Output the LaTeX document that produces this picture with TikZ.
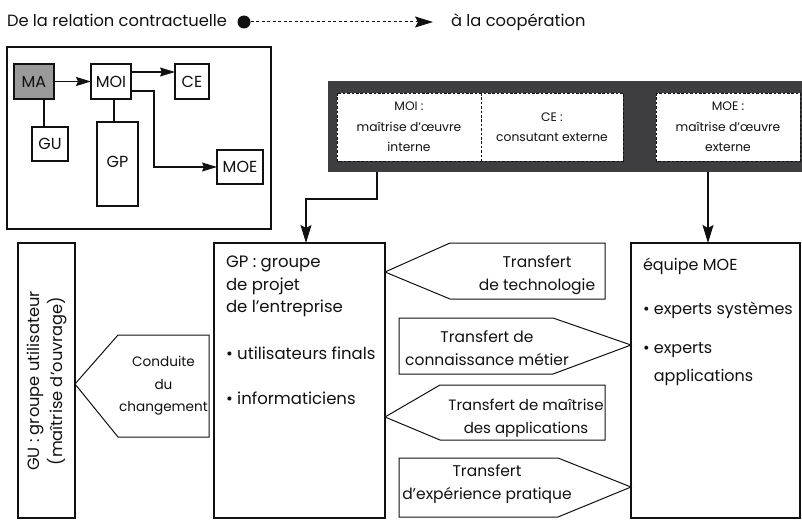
\documentclass[tikz,border=0pt]{standalone}
\usepackage{fontspec}
\setmainfont{Poppins}
\usetikzlibrary{arrows.meta}

\definecolor{panelgray}{HTML}{3E3E40}
\definecolor{mafill}{HTML}{9A9A9A}
\definecolor{ink}{HTML}{111111}

\newcommand\fntT{\fontsize{16.3}{20}\selectfont}
\newcommand\fntL{\fontsize{16.5}{23}\selectfont}
\newcommand\fntR{\fontsize{16}{23}\selectfont}
\newcommand\fntG{\fontsize{16.3}{22.5}\selectfont}
\newcommand\fntC{\fontsize{13.6}{22.5}\selectfont}
\newcommand\fntX{\fontsize{15.5}{23}\selectfont}
\newcommand\fntM{\fontsize{12.3}{20.5}\selectfont}
\newcommand\fntS{\fontsize{16}{18}\selectfont}

\tikzset{
  every node/.style={inner sep=0pt, outer sep=0pt, text=ink},
  frame/.style={draw=ink, line width=1.1pt},
  minibox/.style={frame, fill=white, font=\fntS},
  link/.style={draw=ink, line width=1.1pt},
  minitip/.style={-{Stealth[length=15pt,width=9pt,inset=2pt]}},
  bigtip/.style={-{Stealth[length=18pt,width=11pt,inset=3pt]}},
  dashline/.style={draw=ink, line width=1pt, dash pattern=on 2.6pt off 1.8pt},
  innerbox/.style={fill=white, minimum height=68, font=\fntM, align=center},
  tagshape/.style={draw=ink, line width=1pt, fill=white},
  tagtext/.style={font=\fntX, align=center},
  listtext/.style={anchor=north west, align=left}
}

\begin{document}
\begin{tikzpicture}[x=1pt,y=-1pt]
\useasboundingbox (0,0) rectangle (802,519);

% heading: from contract to cooperation
\node[anchor=base west, font=\fntT] (from) at (7,27) {De la relation contractuelle};
\node[circle, fill=ink, minimum size=13] (dot) at (244,22) {};
\node[anchor=base west, font=\fntT] (to) at (451,27) {à la coopération};
\coordinate (toarrow) at (433,22);
\draw[link, line width=1pt, dash pattern=on 3pt off 2.5pt, bigtip] (dot.east) -- (toarrow);

% small overview of the actors
\node[frame, line width=1.3pt, minimum width=264, minimum height=182] (overview) at (139,138) {};
\node[minibox, fill=mafill, minimum width=40, minimum height=35] (ma) at (34,81.5) {MA};
\node[minibox, minimum width=40, minimum height=35] (moi) at (111,81.5) {MOI};
\node[minibox, minimum width=34, minimum height=35] (ce) at (192,81.5) {CE};
\node[minibox, minimum width=36, minimum height=34] (gu) at (50,144) {GU};
\node[minibox, minimum width=41, minimum height=84] (gp) at (117.5,164) {\raisebox{5pt}{GP}};
\node[minibox, minimum width=46, minimum height=34] (moe) at (240,167) {MOE};

\draw[link, minitip] (ma.east) -- (moi.west);
\draw[link, minitip] ([yshift=9.5pt]moi.east) -- ([yshift=9.5pt]ce.west);
\draw[link, minitip] ([yshift=-9.5pt]moi.east) -- ++(23,0) |- (moe.west);
\draw[link] ([xshift=10pt]ma.south) -- ([xshift=-6pt]gu.north);
\draw[link] ([xshift=3pt]moi.south) -- ([xshift=-3.5pt]gp.north);

% dark band with internal and external project management
\node[fill=panelgray, minimum width=474, minimum height=91] (panel) at (565,126.5) {};
\node[innerbox, minimum width=144] (moiint) at (409,127) {MOI :\\maîtrise d’œuvre\\interne};
\node[innerbox, minimum width=142] (cons) at (552,127) {CE :\\consutant externe};
\node[innerbox, minimum width=144] (moeext) at (728,127) {MOE :\\maîtrise d’œuvre\\externe};
\draw[dashline] (moiint.north west) rectangle (cons.south east);
\draw[dashline] (moiint.north east) -- (moiint.south east);
\draw[dashline] (moeext.north west) rectangle (moeext.south east);

% the three working groups
\node[frame, minimum width=57, minimum height=275] (gubox) at (46.5,380.5) {};
\node[rotate=90, font=\fntG, align=center] (gutext) at (47,381)
  {GU : groupe utilisateur\\(maîtrise d’ouvrage)};

\node[frame, minimum width=171, minimum height=275] (gpbox) at (299.5,380.5) {};
\node[listtext, font=\fntL] (gptext) at (226,256)
  {GP : groupe\\[-0.5pt]de projet\\[-1pt]de l’entreprise\\[24pt]• utilisateurs finals\\[22pt]• informaticiens};

\node[frame, minimum width=169, minimum height=275] (moebox) at (715.5,380.5) {};
\node[listtext, font=\fntR] (moetext) at (643,258)
  {équipe MOE\\[21pt]• experts systèmes\\[16pt]• experts\\[5pt]\hphantom{•}\ applications};

% links from the band down to the groups
\draw[link, bigtip] ([xshift=-188pt]panel.south) -- ++(0,27) -| ([xshift=6.5pt]gpbox.north);
\coordinate (moein) at ([xshift=-7.5pt]moebox.north);
\draw[link, bigtip] (moein |- panel.south) -- (moein);

% transfer tags between the groups
\draw[tagshape] (gubox.east |- 0,384) -- (118,335) -- (209,335) -- (209,437) -- (118,437) -- cycle;
\node[tagtext, font=\fntC] (change) at (163.5,386) {Conduite\\du\\changement};

\draw[tagshape] (gpbox.east |- 0,272) -- (450,243) -- (605,243) -- (605,299) -- (450,299) -- cycle;
\node[tagtext] (techno) at (537,275) {Transfert\\de technologie};

\draw[tagshape] (399,318) -- (553,318) -- (moebox.west |- 0,345) -- (553,374) -- (399,374) -- cycle;
\node[tagtext] (metier) at (487,348) {Transfert de\\connaissance métier};

\draw[tagshape] (gpbox.east |- 0,417) -- (440,385) -- (605,385) -- (605,440) -- (440,440) -- cycle;
\node[tagtext, font=\fontsize{15}{23}\selectfont] (applis) at (526,418) {Transfert de maîtrise\\des applications};

\draw[tagshape] (399,458) -- (558,458) -- (moebox.west |- 0,487) -- (558,517) -- (399,517) -- cycle;
\node[tagtext] (pratique) at (487,484) {Transfert\\d’expérience pratique};
\end{tikzpicture}
\end{document}
